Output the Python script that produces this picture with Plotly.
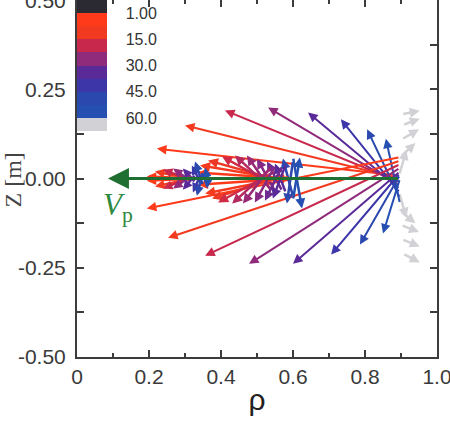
import plotly.graph_objects as go

# ---------------- data ----------------
legend_colors = ['#d2d2d6', '#2550b2', '#2a48ae', '#3c36a8', '#5a2a98',
                 '#902a7a', '#c8284c', '#f23a20', '#ff3a1a', '#2b2a33']  # bottom -> top
legend_tickvals = [9, 7, 5, 3, 1]
legend_ticktext = ['1.00', '15.0', '30.0', '45.0', '60.0']

fan_colors8 = ['#ff3a1a', '#f23a20', '#c8284c', '#902a7a', '#5a2a98', '#3c36a8', '#2a48ae', '#2550b2']
fan_colors11 = ['#ff3a1a', '#f63a1e', '#ec3824', '#d02a46', '#b42a5e', '#9a2a74',
                '#862a84', '#6e2a8e', '#5a2a98', '#2e48ae', '#2550b2']

# main fan (rho ~ 0.9)
main_tail_rho_top = [0.897, 0.897, 0.897, 0.897, 0.897, 0.897, 0.897, 0.897]
main_tail_z_top = [0.008, 0.0, -0.01, -0.02, -0.03, -0.04, -0.055, -0.07]
main_tip_rho_top = [0.222, 0.300, 0.411, 0.531, 0.642, 0.733, 0.806, 0.858]
main_tip_z_top = [0.084, 0.149, 0.191, 0.199, 0.185, 0.166, 0.138, 0.112]
main_tail_rho_bot = [0.897, 0.897, 0.897, 0.897, 0.897, 0.897, 0.897, 0.897]
main_tail_z_bot = [0.06, 0.05, 0.04, 0.03, 0.02, 0.015, 0.01, 0.0]
main_tip_rho_bot = [0.194, 0.253, 0.356, 0.478, 0.600, 0.706, 0.786, 0.850]
main_tip_z_bot = [-0.084, -0.166, -0.216, -0.239, -0.239, -0.213, -0.185, -0.154]

# mid fan (rho ~ 0.6)
mid_tail_rho_top = [0.59, 0.59, 0.58, 0.55, 0.54, 0.54, 0.55, 0.57, 0.58, 0.60, 0.60]
mid_tail_z_top = [0.0, -0.005, -0.01, -0.02, -0.03, -0.035, -0.035, -0.035, -0.04, -0.05, -0.06]
mid_tip_rho_top = [0.336, 0.342, 0.364, 0.403, 0.439, 0.472, 0.500, 0.528, 0.550, 0.572, 0.619]
mid_tip_z_top = [0.017, 0.037, 0.051, 0.062, 0.065, 0.065, 0.056, 0.048, 0.042, 0.056, 0.059]
mid_tail_rho_bot = [0.59, 0.59, 0.58, 0.55, 0.54, 0.54, 0.55, 0.57, 0.58, 0.60, 0.60]
mid_tail_z_bot = [0.0, 0.005, 0.01, 0.02, 0.03, 0.035, 0.035, 0.035, 0.04, 0.05, 0.06]
mid_tip_rho_bot = [0.336, 0.356, 0.375, 0.392, 0.431, 0.461, 0.494, 0.522, 0.544, 0.583, 0.625]
mid_tip_z_bot = [-0.017, -0.042, -0.056, -0.067, -0.070, -0.070, -0.067, -0.062, -0.056, -0.070, -0.084]

# small fan (rho ~ 0.35)
small_tail_rho_top = [0.33, 0.33, 0.32, 0.32, 0.33, 0.345, 0.35, 0.365]
small_tail_z_top = [0.0, -0.003, -0.006, -0.01, -0.012, -0.015, -0.02, -0.02]
small_tip_rho_top = [0.194, 0.217, 0.239, 0.267, 0.294, 0.319, 0.328, 0.356]
small_tip_z_top = [0.006, 0.020, 0.025, 0.028, 0.028, 0.037, 0.048, 0.031]
small_tail_rho_bot = [0.33, 0.33, 0.32, 0.32, 0.33, 0.345, 0.35, 0.365]
small_tail_z_bot = [0.0, 0.003, 0.006, 0.01, 0.012, 0.015, 0.02, 0.02]
small_tip_rho_bot = [0.194, 0.217, 0.239, 0.267, 0.294, 0.322, 0.333, 0.361]
small_tip_z_bot = [-0.006, -0.022, -0.028, -0.028, -0.031, -0.039, -0.048, -0.028]

# grey arrows (60 deg)
grey_tail_rho = [0.902, 0.905, 0.902, 0.898, 0.895, 0.895, 0.898, 0.900, 0.902, 0.905]
grey_tail_z = [0.180, 0.150, 0.110, 0.060, 0.010, -0.040, -0.090, -0.130, -0.170, -0.210]
grey_tip_rho = [0.952, 0.952, 0.950, 0.940, 0.915, 0.915, 0.940, 0.950, 0.952, 0.952]
grey_tip_z = [0.190, 0.168, 0.138, 0.100, 0.080, -0.110, -0.125, -0.150, -0.190, -0.235]
grey_color = '#d2d2d6'

# V_p arrow
vp_tail = (0.895, 0.0)
vp_tip = (0.086, 0.0)

# ---------------- figure ----------------
fig = go.Figure()

cscale = []
for i, c in enumerate(legend_colors):
    cscale.append([i / 10, c])
    cscale.append([(i + 1) / 10, c])

fig.add_trace(go.Scatter(
    x=[0.5], y=[0.4], mode='markers', hoverinfo='skip', showlegend=False,
    marker=dict(size=1, opacity=0, color=[5], colorscale=cscale, cmin=0, cmax=10,
                showscale=True,
                colorbar=dict(x=0, xanchor='left', xpad=0, y=1, yanchor='top', ypad=0,
                              len=131, lenmode='pixels', thickness=30, outlinewidth=0,
                              tickvals=legend_tickvals, ticktext=legend_ticktext,
                              ticks='outside', ticklen=16, tickcolor='rgba(0,0,0,0)',
                              tickfont=dict(family='Liberation Sans', size=16, color='#333333')))))

annotations = []


def add_arrows(tr, tz, hr, hz, colors, width, size):
    for a, b, c, d, col in zip(tr, tz, hr, hz, colors):
        annotations.append(dict(x=c, y=d, ax=a, ay=b, xref='x', yref='y', axref='x', ayref='y',
                                text='', showarrow=True, arrowhead=2, arrowsize=size,
                                arrowwidth=width, arrowcolor=col, standoff=0, startstandoff=0))


add_arrows(grey_tail_rho, grey_tail_z, grey_tip_rho, grey_tip_z, [grey_color] * len(grey_tail_rho), 2.5, 0.8)
add_arrows(main_tail_rho_top, main_tail_z_top, main_tip_rho_top, main_tip_z_top, fan_colors8, 2, 0.95)
add_arrows(main_tail_rho_bot, main_tail_z_bot, main_tip_rho_bot, main_tip_z_bot, fan_colors8, 2, 0.95)
add_arrows(mid_tail_rho_top, mid_tail_z_top, mid_tip_rho_top, mid_tip_z_top, fan_colors11, 2.5, 0.8)
add_arrows(mid_tail_rho_bot, mid_tail_z_bot, mid_tip_rho_bot, mid_tip_z_bot, fan_colors11, 2.5, 0.8)
add_arrows(small_tail_rho_top, small_tail_z_top, small_tip_rho_top, small_tip_z_top, fan_colors8, 2.5, 0.75)
add_arrows(small_tail_rho_bot, small_tail_z_bot, small_tip_rho_bot, small_tip_z_bot, fan_colors8, 2.5, 0.75)

annotations.append(dict(x=vp_tip[0], y=vp_tip[1], ax=vp_tail[0], ay=vp_tail[1], xref='x', yref='y',
                        axref='x', ayref='y', text='', showarrow=True, arrowhead=2, arrowsize=1.4,
                        arrowwidth=3, arrowcolor='#1f6e32', standoff=0))
annotations.append(dict(x=0.115, y=-0.08, xref='x', yref='y', text='<i>V</i><sub>p</sub>',
                        xanchor='center', yanchor='middle',
                        showarrow=False, font=dict(family='Liberation Serif', size=31, color='#2e8a40')))
annotations.append(dict(x=-0.178, y=0.497, xref='paper', yref='paper', text='Z [m]', textangle=-90,
                        xanchor='center', yanchor='middle',
                        showarrow=False, font=dict(family='Liberation Serif', size=24, color='#444444')))

axis_common = dict(showline=True, linecolor='#3c3c3c', linewidth=2, mirror='allticks',
                   ticks='inside', ticklen=7, tickwidth=2, tickcolor='#3c3c3c',
                   showgrid=False, zeroline=False, automargin=False, ticklabeloverflow='allow',
                   tickfont=dict(family='Liberation Sans', size=21, color='#3a3a3a'))

fig.update_layout(
    width=450, height=424, autosize=False,
    margin=dict(l=77, r=13, t=0, b=67),
    plot_bgcolor='white', paper_bgcolor='white',
    showlegend=False,
    annotations=annotations,
    xaxis=dict(range=[0, 1.0], tickvals=[0, 0.2, 0.4, 0.6, 0.8, 1.0],
               ticktext=['0', '0.2', '0.4', '0.6', '0.8', '1.0'],
               minor=dict(tickvals=[0.1, 0.3, 0.5, 0.7, 0.9], ticklen=4, tickwidth=2,
                          tickcolor='#3c3c3c', ticks='inside'),
               title=dict(text='ρ', font=dict(family='Liberation Sans', size=30, color='#222222'),
                          standoff=2),
               **axis_common),
    yaxis=dict(range=[-0.5, 0.5005], tickvals=[-0.5, -0.25, 0, 0.25, 0.5],
               ticktext=['-0.50', '-0.25', '0.00', '0.25', '0.50'], ticklabelstandoff=5,
               minor=dict(tickvals=[-0.375, -0.125, 0.125, 0.375], ticklen=7, tickwidth=2,
                          tickcolor='#3c3c3c', ticks='inside'),
               **axis_common),
)

fig.write_html('out.html')
